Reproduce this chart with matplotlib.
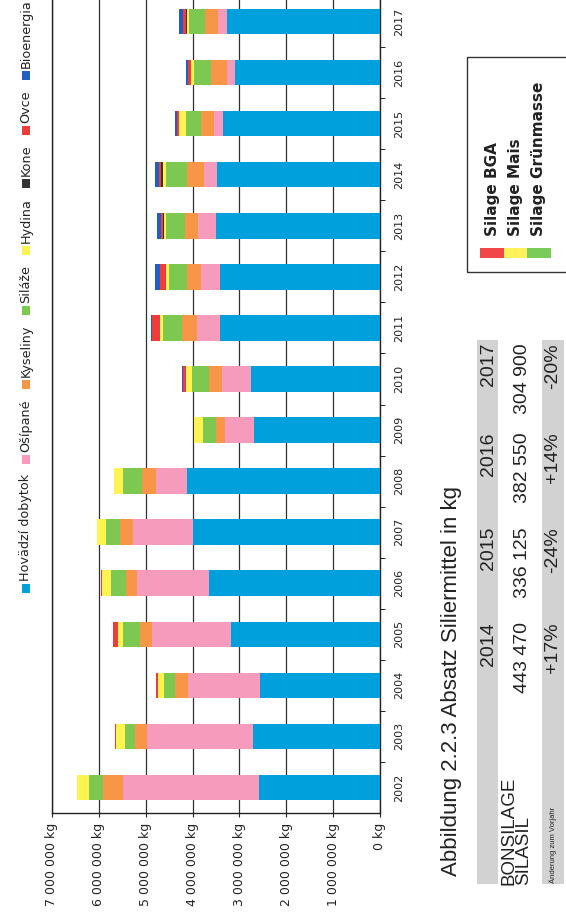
import matplotlib
matplotlib.use("Agg")
import matplotlib.pyplot as plt
from matplotlib.patches import Rectangle
from matplotlib.ticker import FuncFormatter
import numpy as np

# ---------------- data (millions of kg) ----------------
years = ["2002", "2003", "2004", "2005", "2006", "2007", "2008", "2009",
         "2010", "2011", "2012", "2013", "2014", "2015", "2016", "2017"]
hovadzi    = [2.58, 2.70, 2.56, 3.18, 3.64, 3.99, 4.11, 2.69, 2.76, 3.42, 3.42, 3.49, 3.48, 3.34, 3.09, 3.26]
osipane    = [2.91, 2.27, 1.53, 1.69, 1.54, 1.29, 0.66, 0.61, 0.61, 0.49, 0.39, 0.39, 0.28, 0.21, 0.17, 0.19]
kyseliny   = [0.43, 0.25, 0.29, 0.26, 0.24, 0.26, 0.30, 0.20, 0.28, 0.31, 0.31, 0.28, 0.36, 0.27, 0.35, 0.29]
silaze     = [0.28, 0.23, 0.23, 0.36, 0.32, 0.31, 0.41, 0.28, 0.37, 0.41, 0.38, 0.40, 0.44, 0.33, 0.35, 0.33]
hydina     = [0.26, 0.19, 0.13, 0.11, 0.19, 0.19, 0.19, 0.20, 0.12, 0.07, 0.07, 0.05, 0.07, 0.14, 0.07, 0.05]
kone       = [0.00, 0.00, 0.00, 0.00, 0.00, 0.00, 0.00, 0.00, 0.00, 0.00, 0.00, 0.03, 0.04, 0.00, 0.00, 0.01]
ovce       = [0.01, 0.01, 0.04, 0.09, 0.03, 0.01, 0.00, 0.00, 0.07, 0.16, 0.12, 0.03, 0.05, 0.04, 0.07, 0.07]
bioenergia = [0.00, 0.00, 0.00, 0.00, 0.00, 0.00, 0.00, 0.00, 0.02, 0.02, 0.11, 0.09, 0.08, 0.04, 0.05, 0.08]

series_names = ["Hovädzí dobytok", "Ošípané", "Kyseliny", "Siláže", "Hydina", "Kone", "Ovce", "Bioenergia"]
series_vals = [hovadzi, osipane, kyseliny, silaze, hydina, kone, ovce, bioenergia]
series_colors = ["#00a0dc", "#f69bbb", "#f79646", "#7cc851", "#fff44f", "#333333", "#f03c3c", "#1f5fbf"]
value_ticks = [0, 1, 2, 3, 4, 5, 6, 7]

title_text = "Abbildung 2.2.3 Absatz Siliermittel in kg"
table_years = ["2014", "2015", "2016", "2017"]
table_values = ["443 470", "336 125", "382 550", "304 900"]
table_change = ["+17%", "-24%", "+14%", "-20%"]
table_label = ["BONSILAGE", "SILASIL"]
change_label = "Änderung zum Vorjahr"

silage_names = ["Silage BGA", "Silage Mais", "Silage Grünmasse"]
silage_colors = ["#f04848", "#fff25a", "#7acc5a"]

# ---------------- figure ----------------
W, H = 566, 919
fig = plt.figure(figsize=(W / 100, H / 100), dpi=100)
fig.patch.set_facecolor("white")

def fx(x):
    return x / W

def fy(y):
    return 1 - y / H

# chart axes (rotated chart: values grow to the left, years on the right)
ax = fig.add_axes([fx(52), fy(813), (380 - 52) / W, (813 + 4) / H])
ypos = np.arange(len(years))
left = np.zeros(len(years))
for name, vals, col in zip(series_names, series_vals, series_colors):
    v = np.array(vals) * 1e6
    ax.barh(ypos, v, left=left, height=0.5, color=col, edgecolor="none", zorder=3)
    left += v

ax.set_xlim(7e6, 0)
ax.set_ylim(-0.5, 15.5)
ax.set_xticks([t * 1e6 for t in value_ticks])
ax.xaxis.set_major_formatter(FuncFormatter(lambda v, p: (f"{int(round(v)):,}".replace(",", " ") + " kg")))
for lab in ax.get_xticklabels():
    lab.set_rotation(90)
ax.tick_params(axis="x", direction="out", length=3, pad=4, labelsize=9, colors="#222222")
ax.grid(axis="x", color="#303030", lw=0.9, zorder=0)
ax.set_axisbelow(True)

ax.yaxis.tick_right()
ax.set_yticks(ypos)
ax.set_yticklabels(years, rotation=90, va="center", fontsize=8, color="#222222")
ax.set_yticks(ypos[:-1] + 0.5, minor=True)
ax.tick_params(axis="y", which="major", length=0, pad=10.5)
ax.tick_params(axis="y", which="minor", length=3.5, direction="out")
for s in ax.spines.values():
    s.set_color("#222222")
    s.set_linewidth(1)

# ---------------- series legend (left, rotated) ----------------
fig.canvas.draw()
renderer = fig.canvas.get_renderer()
y = 593.0
xc = 26.0
for name, col in zip(series_names, series_colors):
    fig.patches.append(Rectangle((fx(xc - 4.5), fy(y)), 9 / W, 9 / H, transform=fig.transFigure,
                                 facecolor=col, edgecolor="none"))
    y -= 9 + 3
    t = fig.text(fx(xc), fy(y), name, rotation=90, ha="center", va="bottom", fontsize=9.2, color="#222222")
    ext = t.get_window_extent(renderer)
    y -= ext.height + 10
fig.patches.append(Rectangle((fx(10), fy(-20)), 27 / W, (597 + 20) / H, transform=fig.transFigure,
                             facecolor="none", edgecolor="#333333", lw=1))

# ---------------- title ----------------
fig.text(fx(451), fy(876), title_text, rotation=90, ha="center", va="bottom",
         fontsize=16, family="Liberation Sans", color="#222222")

# ---------------- table ----------------
fig.patches.append(Rectangle((fx(477), fy(884)), 21 / W, (884 - 340) / H, transform=fig.transFigure,
                             facecolor="#d2d2d2", edgecolor="none"))
fig.patches.append(Rectangle((fx(542), fy(884)), 22 / W, (884 - 340) / H, transform=fig.transFigure,
                             facecolor="#d2d2d2", edgecolor="none"))
col_tops = [622, 527, 432, 343]
for ytop, yr, val, ch in zip(col_tops, table_years, table_values, table_change):
    fig.text(fx(488), fy(ytop), yr, rotation=90, ha="center", va="top", fontsize=14,
             family="Liberation Sans", color="#222222")
    fig.text(fx(522.5), fy(ytop), val, rotation=90, ha="center", va="top", fontsize=14,
             family="Liberation Sans", color="#222222")
    fig.text(fx(553), fy(ytop), ch, rotation=90, ha="center", va="top", fontsize=14,
             family="Liberation Sans", color="#222222")
fig.text(fx(516), fy(885), "\n".join(table_label), rotation=90, ha="center", va="bottom",
         fontsize=13.5, linespacing=0.8, multialignment="left",
         family="Liberation Sans", color="#222222")
fig.text(fx(553), fy(883), change_label, rotation=90, ha="center", va="bottom", fontsize=5.5,
         family="Liberation Sans", color="#222222")

# ---------------- silage legend (right box) ----------------
fig.patches.append(Rectangle((fx(467), fy(272)), 120 / W, (272 - 57) / H, transform=fig.transFigure,
                             facecolor="none", edgecolor="#333333", lw=1))
sw_x = [480, 503.5, 527]
for x0, name, col in zip(sw_x, silage_names, silage_colors):
    fig.patches.append(Rectangle((fx(x0), fy(258)), 23.5 / W, 10 / H, transform=fig.transFigure,
                                 facecolor=col, edgecolor="none"))
    fig.text(fx(x0 + 12), fy(236), name, rotation=90, ha="center", va="bottom", fontsize=11,
             fontweight="bold", color="#222222")

fig.savefig("out.png", dpi=100, facecolor="white")
